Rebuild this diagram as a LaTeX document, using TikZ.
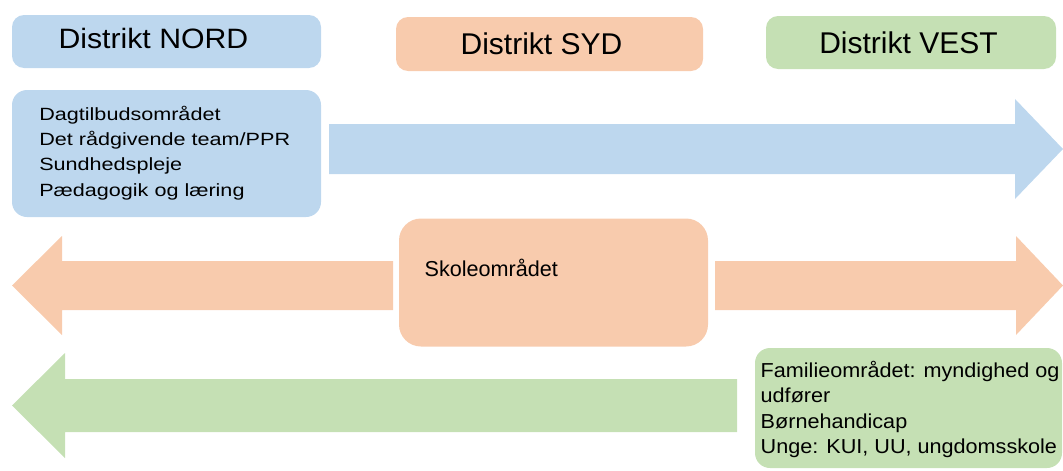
\documentclass[tikz,border=0pt]{standalone}
\usepackage{fontspec}
\setmainfont{Liberation Sans}
\newfontfamily\nordfont{Liberation Sans}[FakeStretch=1.22]
\newfontfamily\nordhfont{Liberation Sans}[FakeStretch=1.08]
\newfontfamily\vestfont{Liberation Sans}[FakeStretch=1.07]
\newfontfamily\sydfont{Liberation Sans}
\definecolor{nordblue}{HTML}{BDD7EE}
\definecolor{sydorange}{HTML}{F8CBAD}
\definecolor{vestgreen}{HTML}{C5E0B4}
\tikzset{
  box/.style={rectangle, draw=none, inner sep=0pt, outer sep=0pt},
  hdrbox/.style={box, rounded corners=12pt},
  bodybox/.style={box, rounded corners=15pt},
  txt/.style={anchor=base west, inner sep=0pt, outer sep=0pt, text=black},
  band/.style={draw=none},
}
\begin{document}
\begin{tikzpicture}[x=1pt,y=-1pt]
\useasboundingbox (0,0) rectangle (1063,471);

% ---- arrows (bands) ----
\fill[band, nordblue] (329,124) -- (1015,124) -- (1015,99) -- (1063,149)
  -- (1015,199) -- (1015,174) -- (329,174) -- cycle;
\fill[band, sydorange] (393,261) -- (62,261) -- (62,236) -- (12,285.5)
  -- (62,335) -- (62,310) -- (393,310) -- cycle;
\fill[band, sydorange] (715,261) -- (1016,261) -- (1016,236) -- (1063,285.5)
  -- (1016,335) -- (1016,310) -- (715,310) -- cycle;
\fill[band, vestgreen] (737,379) -- (65,379) -- (65,353) -- (12,405.5)
  -- (65,458) -- (65,432) -- (737,432) -- cycle;

% ---- header boxes ----
\node[hdrbox, fill=nordblue, minimum width=309pt, minimum height=53pt] (nord) at (166.5,41.5) {};
\node[hdrbox, fill=sydorange, minimum width=307pt, minimum height=54pt] (syd) at (549.5,44) {};
\node[hdrbox, fill=vestgreen, minimum width=290pt, minimum height=53pt] (vest) at (911,42.5) {};

\node[txt, font=\nordhfont\fontsize{28}{33}\selectfont] (nordt) at (58.5,48.3) {Distrikt NORD};
\node[txt, font=\sydfont\fontsize{30}{36}\selectfont] (sydt) at (460.6,54.3) {Distrikt SYD};
\node[txt, font=\sydfont\fontsize{30}{36}\selectfont] (vestt) at (819.3,53.3) {Distrikt VEST};

% ---- content boxes ----
\node[bodybox, fill=nordblue, minimum width=309pt, minimum height=127pt] (nordbody) at (166.5,153.5) {};
\node[box, rounded corners=22pt, fill=sydorange, minimum width=309pt, minimum height=128pt] (skole) at (553.5,282.5) {};
\node[bodybox, fill=vestgreen, minimum width=307pt, minimum height=120pt] (vestbody) at (908.5,408) {};

\node[txt, font=\nordfont\fontsize{17.7}{25.4}\selectfont] (nordtxt) at (39.3,120)
  {\begin{tabular}[t]{@{}l@{}}Dagtilbudsområdet\\ Det rådgivende team/PPR\\ Sundhedspleje\\ Pædagogik og læring\end{tabular}};
\node[txt, font=\sydfont\fontsize{21.6}{26}\selectfont] (skoletxt) at (424.7,276) {Skoleområdet};
\node[txt, font=\vestfont\fontsize{20.2}{25.2}\selectfont] (vesttxt) at (760.7,377.7)
  {\begin{tabular}[t]{@{}l@{}}Familieområdet: myndighed og\\ udfører\\ Børnehandicap\\ Unge: KUI, UU, ungdomsskole\end{tabular}};
\end{tikzpicture}
\end{document}
